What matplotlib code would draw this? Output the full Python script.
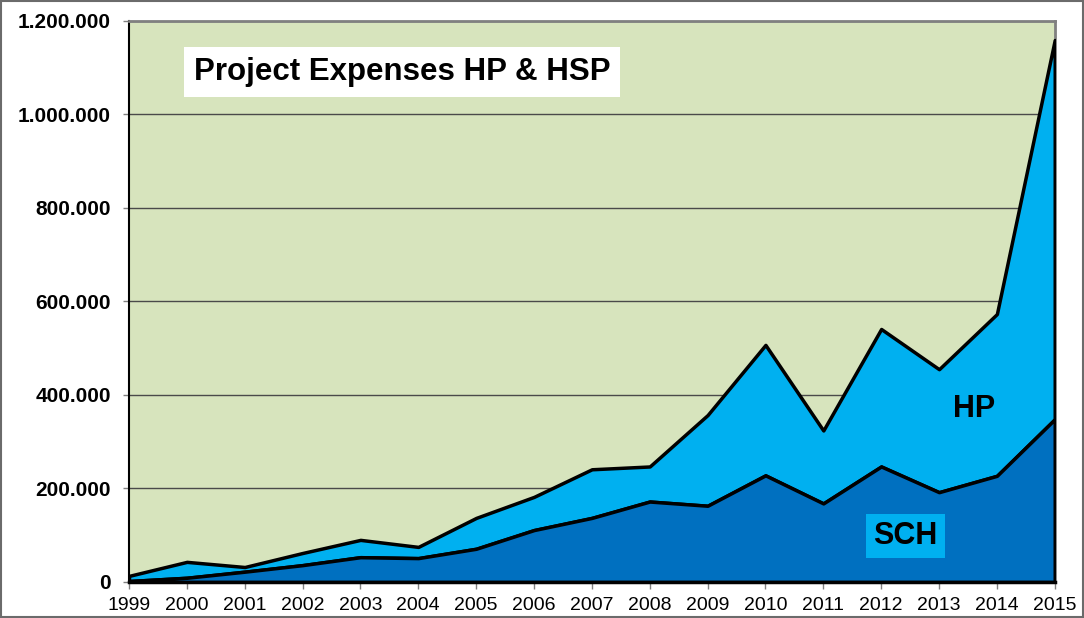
import matplotlib.pyplot as plt
from matplotlib.patches import Rectangle
from matplotlib.ticker import FuncFormatter

plt.rcParams['font.family'] = ['Liberation Sans', 'DejaVu Sans']

# values
years = list(range(1999, 2016))
sch = [2000, 9000, 22000, 36000, 53000, 51000, 71000, 111000, 137000,
       172000, 163000, 228000, 168000, 247000, 192000, 227000, 348000]
total = [13000, 43000, 32000, 62000, 90000, 75000, 137000, 182000, 241000,
         247000, 357000, 507000, 324000, 541000, 455000, 573000, 1159000]
hp = [t - s for t, s in zip(total, sch)]

fig = plt.figure(figsize=(10.84, 6.18), dpi=100)
ax = fig.add_axes([0.119, 0.0583, 0.854, 0.908])
ax.set_facecolor('#D7E4BD')

# stacked areas
hp_top = [s + h for s, h in zip(sch, hp)]
ax.fill_between(years, sch, hp_top, facecolor='#00B0F0', edgecolor='black',
                linewidth=2.5, zorder=3)
ax.fill_between(years, 0, sch, facecolor='#0070C0', edgecolor='black',
                linewidth=2.5, zorder=4)

ax.set_xlim(1999, 2015)
ax.set_ylim(0, 1200000)
ax.set_xticks(years)
ax.set_yticks(range(0, 1200001, 200000))
ax.yaxis.set_major_formatter(FuncFormatter(lambda v, p: f"{int(v):,}".replace(',', '.')))
ax.grid(axis='y', color='#4a4a4a', linewidth=1, zorder=1)
ax.set_axisbelow(True)

ax.tick_params(axis='x', labelsize=14, direction='out', length=5, width=1,
               pad=6, color='#808080')
ax.tick_params(axis='y', labelsize=15, direction='out', length=4.5, width=1,
               pad=8.5, color='#808080')
for lab in ax.get_yticklabels():
    lab.set_fontweight('bold')

ax.spines['left'].set_linewidth(1.5)
ax.spines['bottom'].set_linewidth(2.5)
ax.spines['bottom'].set_zorder(5)
for s in ['top', 'right']:
    ax.spines[s].set_color('#808080')
    ax.spines[s].set_linewidth(2)

ax.text(0.07, 0.909, 'Project Expenses HP & HSP', transform=ax.transAxes,
        fontsize=22.5, fontweight='bold', va='center', ha='left', zorder=6,
        bbox=dict(facecolor='white', edgecolor='none', pad=7))
ax.text(2013.6, 370000, 'HP', fontsize=22, fontweight='bold', ha='center',
        va='center', zorder=6)
ax.text(2012.42, 98000, 'SCH', fontsize=22, fontweight='bold', ha='center',
        va='center', zorder=6,
        bbox=dict(facecolor='#00B0F0', edgecolor='none', pad=5))

# outer chart frame
fig.add_artist(Rectangle((0.001, 0.001), 0.998, 0.997, transform=fig.transFigure,
                         fill=False, edgecolor='#6b6b6b', linewidth=1.5))

fig.savefig('out.png', dpi=100)
